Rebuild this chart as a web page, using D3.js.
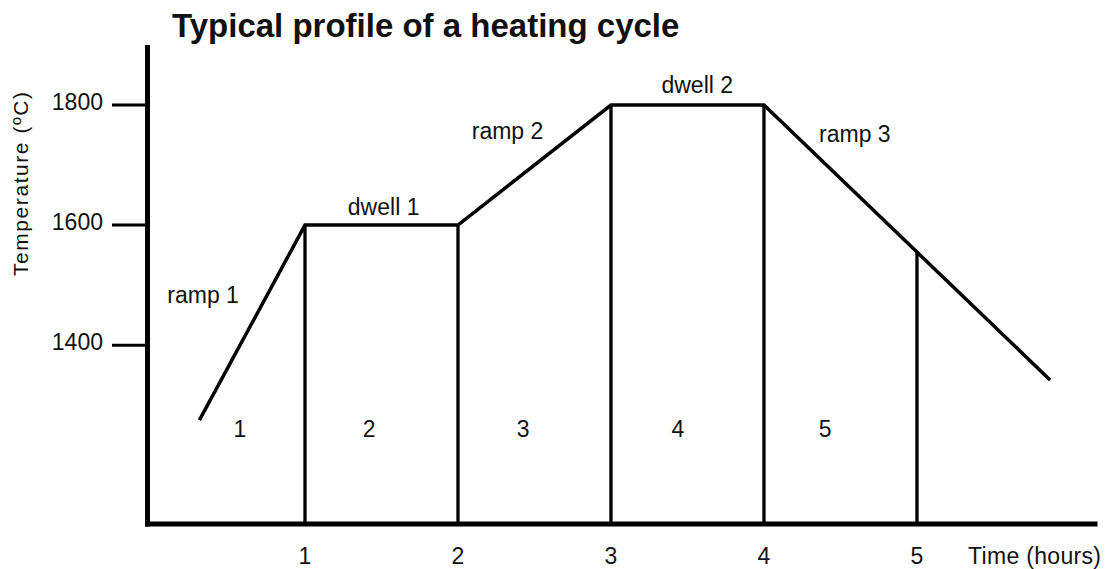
<!DOCTYPE html>
<html>
  <head>
    <script src="https://d3js.org/d3.v7.min.js"></script>
    <style>
      body { margin: 0; background: #fff; }
      text { font-family: "Liberation Sans", Arial, sans-serif; fill: #111; }
    </style>
  </head>
  <body>
    <div id="chart"></div>
    <script>
      // Profile points (time in hours, temperature in °C)
      const times = [0.31, 1, 2, 3, 4, 5, 5.87];
      const temps = [1275, 1600, 1600, 1800, 1800, 1555, 1342];
      const stepTimes = [1, 2, 3, 4, 5];
      const xTicks = [1, 2, 3, 4, 5];
      const yTicks = [1400, 1600, 1800];
      const stageLabels = ["ramp 1", "dwell 1", "ramp 2", "dwell 2", "ramp 3"];
      const stageNumbers = ["1", "2", "3", "4", "5"];

      const width = 1107, height = 569;

      const svg = d3.select("#chart").append("svg")
        .attr("width", width).attr("height", height);

      let x = d3.scaleLinear().domain([0, 6.18]).range([152, 1097.5]);
      let y = d3.scaleLinear().domain([1102, 1900]).range([524, 45]);

      const pts = times.map((t, i) => ({ t: t, v: temps[i] }));
      const valueAt = d3.scaleLinear().domain(times).range(temps);

      // title
      svg.append("text")
        .attr("x", 172).attr("y", 37)
        .style("font-size", "33px").style("font-weight", "bold")
        .text("Typical profile of a heating cycle");

      // vertical step lines
      svg.selectAll(".step")
        .data(stepTimes)
        .join("line")
        .attr("x1", d => x(d)).attr("x2", d => x(d))
        .attr("y1", d => y(valueAt(d))).attr("y2", y(1102))
        .attr("stroke", "#000").attr("stroke-width", 3.3);

      // profile
      svg.append("path")
        .datum(pts)
        .attr("d", d3.line().x(d => x(d.t)).y(d => y(d.v)))
        .attr("fill", "none").attr("stroke", "#000")
        .attr("stroke-width", 3.5).attr("stroke-linejoin", "miter");

      // axes
      svg.append("line")
        .attr("x1", 147.5).attr("x2", 147.5)
        .attr("y1", y(1900)).attr("y2", y(1102) + 2.5)
        .attr("stroke", "#000").attr("stroke-width", 5);
      svg.append("line")
        .attr("x1", 145).attr("x2", x(6.18))
        .attr("y1", y(1102)).attr("y2", y(1102))
        .attr("stroke", "#000").attr("stroke-width", 5);

      // y ticks
      svg.selectAll(".ytick")
        .data(yTicks)
        .join("line")
        .attr("x1", 112).attr("x2", 146)
        .attr("y1", d => y(d)).attr("y2", d => y(d))
        .attr("stroke", "#000").attr("stroke-width", 3);
      svg.selectAll(".ylab")
        .data(yTicks)
        .join("text")
        .attr("x", 103).attr("y", d => y(d) + 5)
        .attr("text-anchor", "end")
        .style("font-size", "23px")
        .text(d => d);

      // x tick labels
      svg.selectAll(".xlab")
        .data(xTicks)
        .join("text")
        .attr("x", d => x(d)).attr("y", 564)
        .attr("text-anchor", "middle")
        .style("font-size", "23px")
        .text(d => d);

      svg.append("text")
        .attr("x", 968).attr("y", 564)
        .style("font-size", "23px")
        .attr("textLength", 133).attr("lengthAdjust", "spacing")
        .text("Time (hours)");

      svg.append("text")
        .attr("transform", "translate(28,184) rotate(-90)")
        .attr("text-anchor", "middle")
        .style("font-size", "21px")
        .attr("textLength", 184).attr("lengthAdjust", "spacing")
        .text("Temperature (ºC)");

      // stage labels (left edge in hours, baseline in °C)
      const labelPos = [[0.1, 1470], [1.28, 1617], [2.09, 1744], [3.33, 1820], [4.36, 1738]];
      svg.selectAll(".stage")
        .data(stageLabels)
        .join("text")
        .attr("x", (d, i) => x(labelPos[i][0]))
        .attr("y", (d, i) => y(labelPos[i][1]))
        .style("font-size", "23px")
        .text(d => d);

      // stage numbers
      const numPos = [0.575, 1.42, 2.426, 3.438, 4.4];
      svg.selectAll(".num")
        .data(stageNumbers)
        .join("text")
        .attr("x", (d, i) => x(numPos[i]))
        .attr("y", 437)
        .attr("text-anchor", "middle")
        .style("font-size", "23px")
        .text(d => d);
    </script>
  </body>
</html>
